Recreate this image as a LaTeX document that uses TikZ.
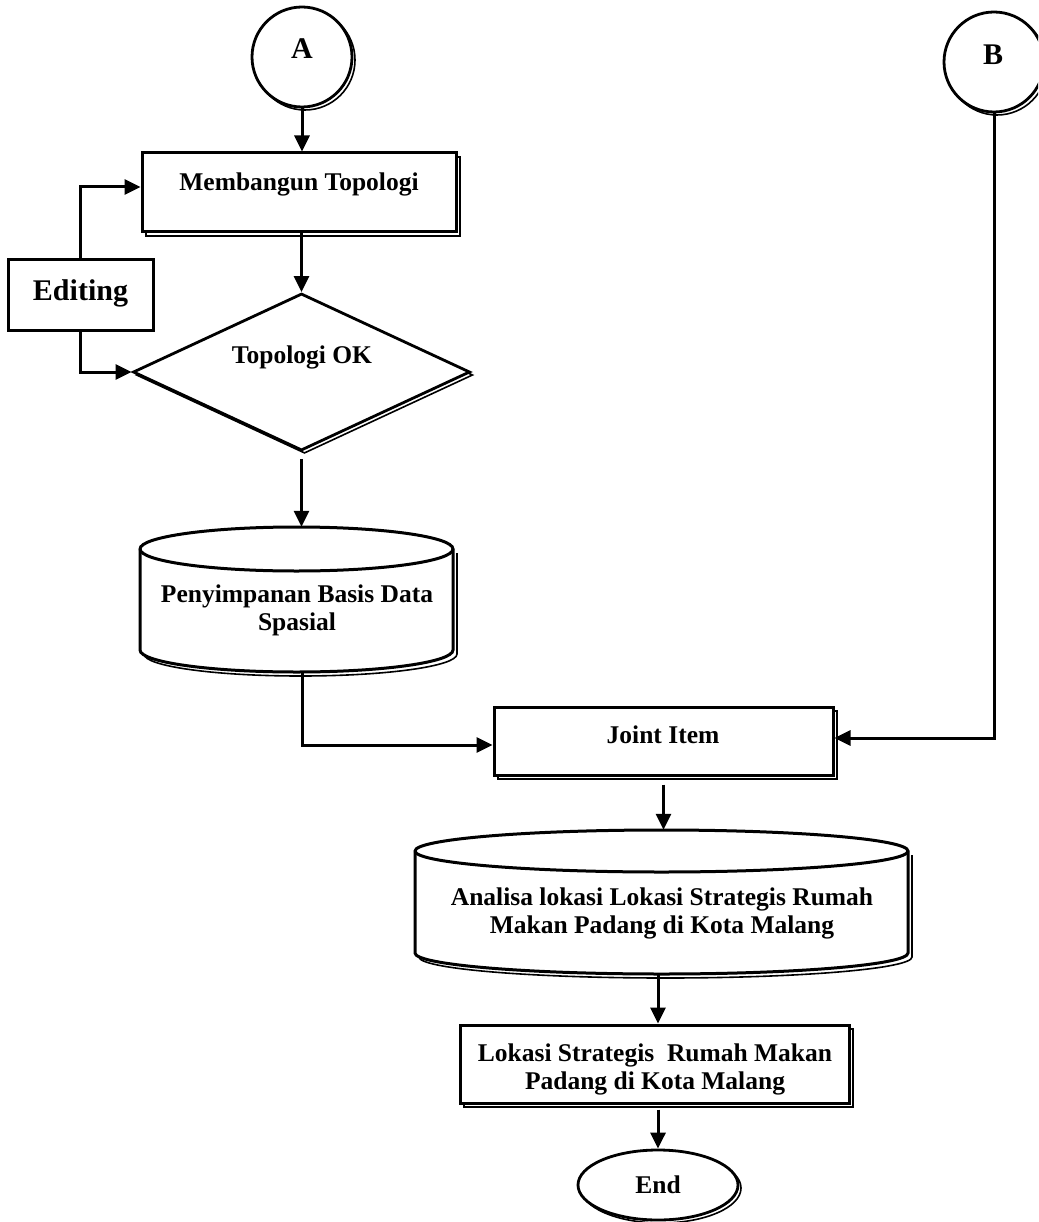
\documentclass[tikz,border=0pt]{standalone}
\usepackage{fontspec}
\setmainfont{Liberation Serif}
\usetikzlibrary{shapes.geometric,shadows,arrows.meta}
\begin{document}
\begin{tikzpicture}[x=1pt,y=1pt,
  arr/.style={line width=3pt,-{Triangle[length=16pt,width=15pt]}},
  ln/.style={line width=3pt},
  shd/.style={copy shadow={shadow xshift=4pt,shadow yshift=-4pt,line width=1.6pt}},
  shds/.style={copy shadow={shadow xshift=3pt,shadow yshift=-3pt,line width=1.6pt}},
  boxx/.style={draw,line width=3pt,fill=white,rectangle,inner sep=0pt},
  txt/.style={font=\fontsize{25.5}{28}\selectfont\bfseries,align=center,inner sep=0pt},
  bigtxt/.style={font=\fontsize{30}{34}\selectfont\bfseries,inner sep=0pt},
]
\useasboundingbox (0,0) rectangle (1038,-1222);
\clip (0,0) rectangle (1038,-1222);

% connectors A and B
\node[circle,draw,line width=2.8pt,fill=white,minimum size=100pt,inner sep=0pt,shds] (A) at (302,-57) {};
\node[bigtxt,anchor=base] (At) at (302,-59) {A};
\node[circle,draw,line width=2.8pt,fill=white,minimum size=100pt,inner sep=0pt,shds] (B) at (994,-62) {};
\node[bigtxt,anchor=base] (Bt) at (993,-65) {B};

% Membangun Topologi
\node[boxx,shd,minimum width=314pt,minimum height=79pt] (memb) at (299,-192.5) {};
\node[txt,anchor=base] (membt) at (299,-191) {Membangun Topologi};

% Editing
\node[boxx,minimum width=145pt,minimum height=70pt] (edit) at (80.5,-295) {};
\node[bigtxt,anchor=base] (editt) at (80.5,-301) {Editing};

% Decision
\node[diamond,draw,line width=2.8pt,fill=white,minimum width=337pt,minimum height=157pt,inner sep=0pt,shds] (dia) at (301.5,-372) {};
\node[txt,anchor=base] (diat) at (302,-363) {Topologi OK};

% Cylinder 1
\node[inner sep=0pt,minimum width=313pt,minimum height=145pt] (cyl1) at (296.5,-599.5) {};
\draw[line width=1.6pt,shift={(4,-4)}] (140,-549) -- (140,-650) arc[start angle=180,end angle=360,x radius=156.5pt,y radius=22pt] -- (453,-549);
\draw[ln,fill=white] (140,-549) -- (140,-650) arc[start angle=180,end angle=360,x radius=156.5pt,y radius=22pt] -- (453,-549) arc[start angle=0,end angle=180,x radius=156.5pt,y radius=22pt] -- cycle;
\draw[ln] (140,-549) arc[start angle=180,end angle=360,x radius=156.5pt,y radius=22pt];
\node[txt] (cyl1t) at (297,-610) {Penyimpanan Basis Data\\Spasial};

% Joint Item
\node[boxx,shd,minimum width=339pt,minimum height=68pt] (joint) at (663.5,-741) {};
\node[txt,anchor=base] (jointt) at (663,-743) {Joint Item};

% Cylinder 2
\node[inner sep=0pt,minimum width=493pt,minimum height=144pt] (cyl2) at (661.5,-902) {};
\draw[line width=1.6pt,shift={(4,-4)}] (415,-851) -- (415,-953) arc[start angle=180,end angle=360,x radius=246.5pt,y radius=21pt] -- (908,-851);
\draw[ln,fill=white] (415,-851) -- (415,-953) arc[start angle=180,end angle=360,x radius=246.5pt,y radius=21pt] -- (908,-851) arc[start angle=0,end angle=180,x radius=246.5pt,y radius=21pt] -- cycle;
\draw[ln] (415,-851) arc[start angle=180,end angle=360,x radius=246.5pt,y radius=21pt];
\node[txt] (cyl2t) at (662,-913) {Analisa lokasi Lokasi Strategis Rumah\\Makan Padang di Kota Malang};

% Lokasi
\node[boxx,shd,minimum width=389pt,minimum height=78pt] (lok) at (654.5,-1064) {};
\node[txt] (lokt) at (655,-1069) {Lokasi Strategis\ \ Rumah Makan\\Padang di Kota Malang};

% End
\node[ellipse,draw,line width=2.8pt,fill=white,minimum width=160pt,minimum height=70pt,inner sep=0pt,shds] (endn) at (658,-1185) {};
\node[txt,anchor=base] (endt) at (658,-1193) {End};

% arrows
\draw[arr] (A.south) -- (A.south |- memb.north);
\draw[arr] (dia.north |- memb.south) -- (dia.north);
\draw[arr] (edit.north) |- ([yshift=5.5pt]memb.west);
\draw[arr] (edit.south) |- (dia.west);
\draw[arr,shorten <=7pt] (dia.south) -- (dia.south |- cyl1.north);
\draw[arr] ([xshift=6pt]cyl1.south) |- ([yshift=-4pt]joint.west);
\draw[arr] (B.south) |- ([yshift=3pt]joint.east);
\draw[arr,shorten <=8pt] (joint.south) -- (joint.south |- cyl2.north);
\draw[arr] (endn.north |- cyl2.south) -- (endn.north |- lok.north);
\draw[arr,shorten <=5pt] (endn.north |- lok.south) -- (endn.north);
\end{tikzpicture}
\end{document}
